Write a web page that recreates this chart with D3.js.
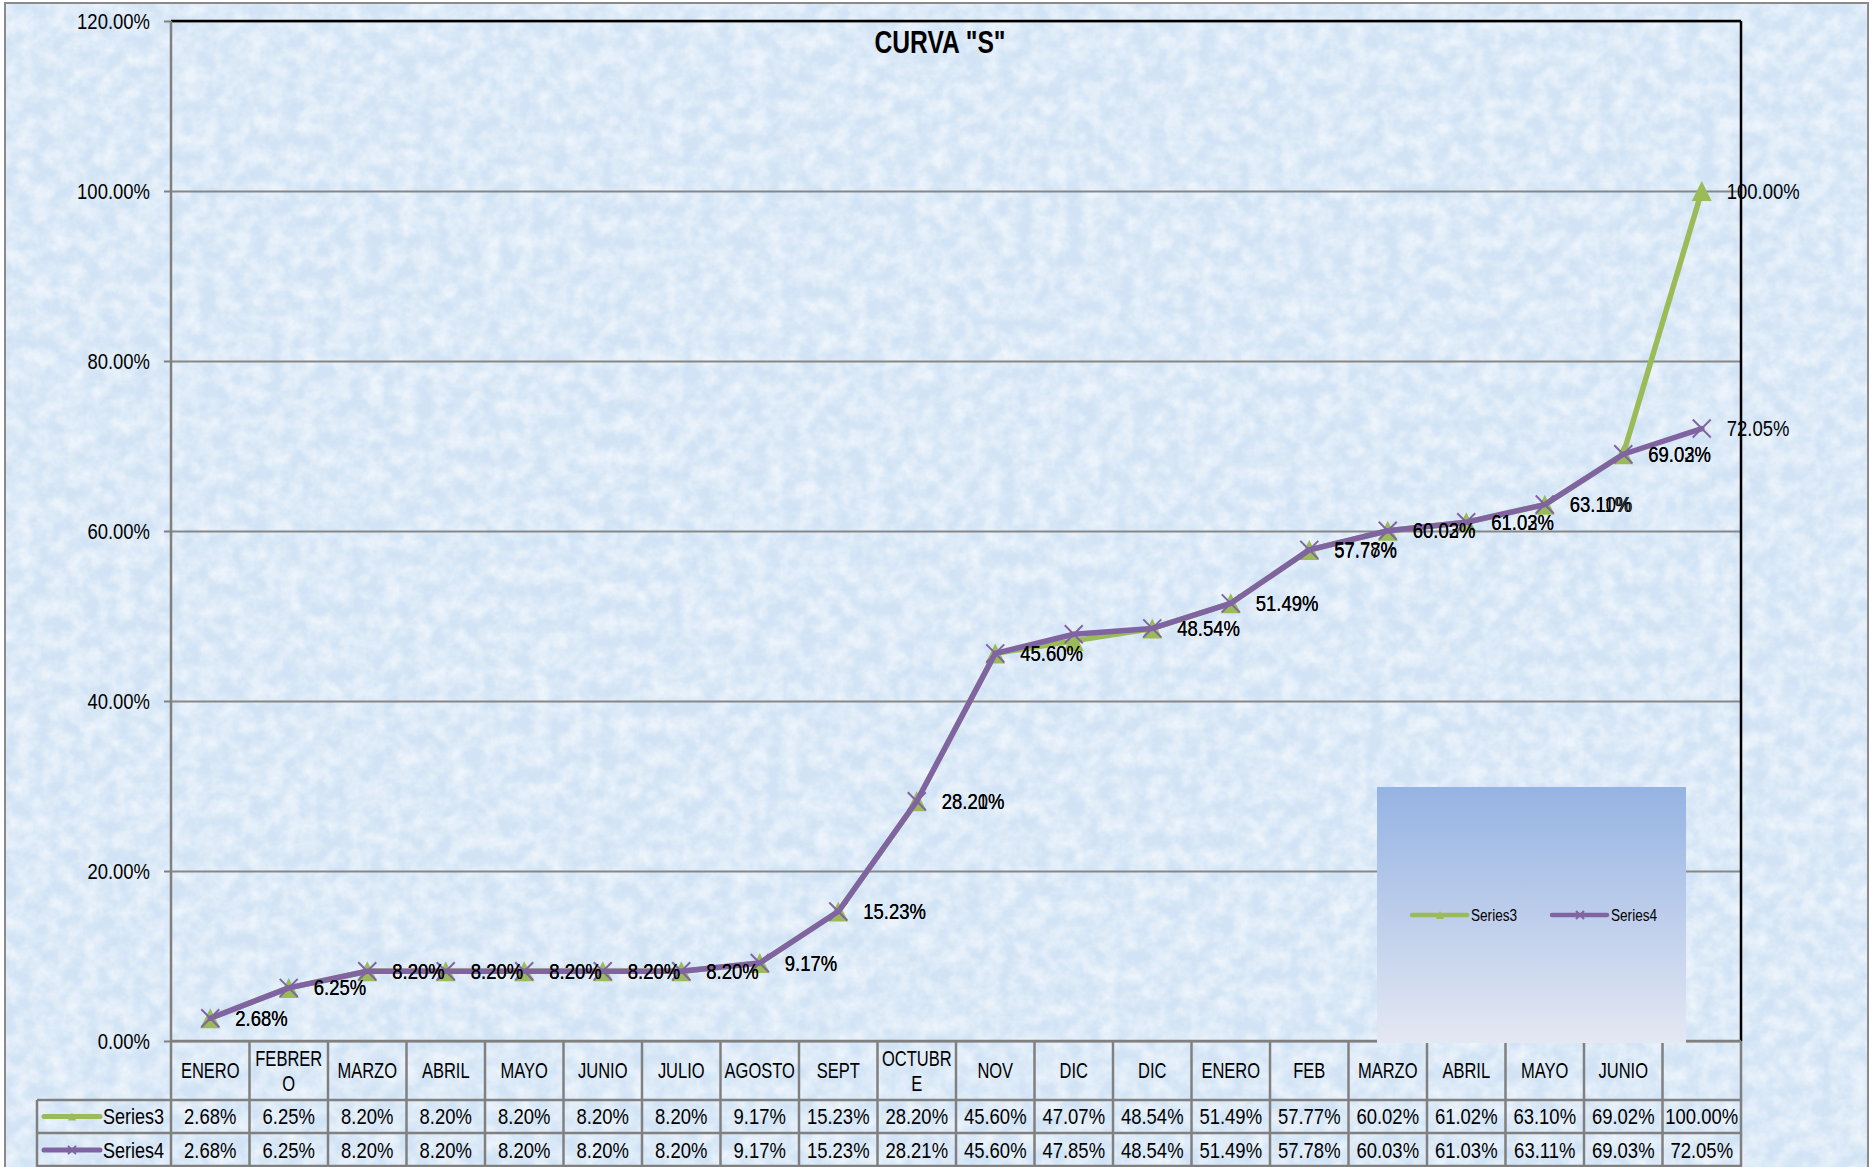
<!DOCTYPE html>
<html><head><meta charset="utf-8">
<script src="https://cdn.jsdelivr.net/npm/d3@7"></script>
<style>
body{margin:0;background:#fff;}
svg{display:block;}
text{font-family:"Liberation Sans",Arial,sans-serif;fill:#000;}
</style>
</head><body>
<svg id="chart" width="1873" height="1167"></svg>
<script>
// ---------- DATA ----------
const title = 'CURVA "S"';
const categories = ["ENERO","FEBRERO","MARZO","ABRIL","MAYO","JUNIO","JULIO","AGOSTO","SEPT","OCTUBRE","NOV","DIC","DIC","ENERO","FEB","MARZO","ABRIL","MAYO","JUNIO",""];
const seriesNames = ["Series3","Series4"];
const series3 = [2.68,6.25,8.20,8.20,8.20,8.20,8.20,9.17,15.23,28.20,45.60,47.07,48.54,51.49,57.77,60.02,61.02,63.10,69.02,100.00];
const series4 = [2.68,6.25,8.20,8.20,8.20,8.20,8.20,9.17,15.23,28.21,45.60,47.85,48.54,51.49,57.78,60.03,61.03,63.11,69.03,72.05];
const yTicks = [0,20,40,60,80,100,120];
const unlabeledPoints = [11];
const seriesColors = ["#9bbb59","#8064a2"];

// ---------- LAYOUT ----------
const svg = d3.select("#chart");
const L = 171, R = 1741, T = 21, B = 1041;
const rowH = [B, 1100, 1133, 1167];
const tableLeft = 37;
const fontSize = 22;

const x = d3.scaleBand().domain(d3.range(categories.length)).range([L, R]).paddingInner(0).paddingOuter(0);
const xc = i => x(i) + x.bandwidth() / 2;
const y = d3.scaleLinear().domain([0, 120]).range([B, T]);
const fmt = v => v.toFixed(2) + "%";
const squeeze = s => (/\d/.test(s) ? 0.84 : 0.75);

function txt(g, px, py, s, o = {}) {
  const size = o.size || fontSize;
  const f = o.sx || squeeze(s);
  return g.append("text")
    .attr("transform", `translate(${px},${py}) scale(${f},1)`)
    .attr("text-anchor", o.anchor || "start")
    .attr("dominant-baseline", "central")
    .attr("font-size", size)
    .attr("font-weight", o.weight || "normal")
    .text(s);
}

// ---------- BACKGROUND ----------
const defs = svg.append("defs");
const f = defs.append("filter").attr("id","tex").attr("x",0).attr("y",0).attr("width","100%").attr("height","100%");
f.append("feTurbulence").attr("type","fractalNoise").attr("baseFrequency","0.06").attr("numOctaves",4).attr("seed",11);
f.append("feColorMatrix").attr("type","matrix").attr("values","0 0 0 0 1  0 0 0 0 1  0 0 0 0 1  1.8 0 0 0 -0.5");
const lg = defs.append("linearGradient").attr("id","legGrad").attr("x1",0).attr("y1",0).attr("x2",0).attr("y2",1);
lg.append("stop").attr("offset","0%").attr("stop-color","#95b3e3");
lg.append("stop").attr("offset","100%").attr("stop-color","#e4e8f3");

svg.append("rect").attr("x",5).attr("y",3).attr("width",1863).attr("height",1180).attr("fill","#d1e3f5");
svg.append("rect").attr("x",5).attr("y",3).attr("width",1863).attr("height",1180)
  .attr("fill","#fff").attr("filter","url(#tex)").attr("opacity",0.6);
svg.append("rect").attr("x",5).attr("y",3).attr("width",1863).attr("height",1180)
  .attr("fill","none").attr("stroke","#8a8a8a").attr("stroke-width",2);

// ---------- GRIDLINES ----------
const grid = svg.append("g").attr("transform",`translate(${L},0)`)
  .call(d3.axisLeft(y).tickValues(yTicks).tickSize(-(R - L)).tickFormat(""));
grid.select(".domain").remove();
grid.selectAll("line").attr("stroke","#878787").attr("stroke-width",2);

// ---------- Y AXIS ----------
const yAxis = svg.append("g").attr("transform",`translate(${L},0)`)
  .call(d3.axisLeft(y).tickValues(yTicks).tickSize(7).tickPadding(14).tickFormat(fmt));
yAxis.select(".domain").remove();
yAxis.selectAll("line").attr("stroke","#808080").attr("stroke-width",2);
yAxis.selectAll(".tick text").each(function(){
  const t = d3.select(this);
  const xx = +t.attr("x");
  t.attr("x",0).attr("transform",`translate(${xx},0) scale(0.84,1)`)
   .attr("font-size",fontSize).attr("font-family",'"Liberation Sans",Arial,sans-serif').attr("fill","#000");
});

// plot frame: top & right black
svg.append("line").attr("x1",L).attr("x2",R).attr("y1",T).attr("y2",T).attr("stroke","#000").attr("stroke-width",2.5);
svg.append("line").attr("x1",R).attr("x2",R).attr("y1",T).attr("y2",B).attr("stroke","#000").attr("stroke-width",2.5);

// ---------- TABLE ----------
const tbl = svg.append("g");
const gray = "#808080";
tbl.append("line").attr("x1",L).attr("x2",R).attr("y1",rowH[0]).attr("y2",rowH[0]).attr("stroke",gray).attr("stroke-width",2.5);
[rowH[1], rowH[2], rowH[3]-1].forEach(yy => {
  tbl.append("line").attr("x1",tableLeft).attr("x2",R).attr("y1",yy).attr("y2",yy).attr("stroke",gray).attr("stroke-width",2.5);
});
d3.range(categories.length + 1).forEach(i => {
  const xx = i < categories.length ? x(i) : R;
  tbl.append("line").attr("x1",xx).attr("x2",xx).attr("y1",i === 0 ? T : rowH[0]).attr("y2",rowH[3]).attr("stroke",gray).attr("stroke-width",2.5);
});
tbl.append("line").attr("x1",tableLeft).attr("x2",tableLeft).attr("y1",rowH[1]).attr("y2",rowH[3]).attr("stroke",gray).attr("stroke-width",2.5);

// header text, wrapped by character when too wide
const measure = svg.append("text").attr("font-size",fontSize).attr("visibility","hidden");
function textW(s){ measure.text(s); return measure.node().getComputedTextLength() * 0.75; }
const maxW = x.bandwidth() - 3;
categories.forEach((c, i) => {
  const lines = [];
  let cur = "";
  for (const ch of c) {
    if (textW(cur + ch) > maxW && cur.length) { lines.push(cur); cur = ch; }
    else cur += ch;
  }
  if (cur.length) lines.push(cur);
  const cy = (rowH[0] + rowH[1]) / 2;
  const lh = 25;
  lines.forEach((ln, k) => txt(tbl, xc(i), cy + (k - (lines.length - 1) / 2) * lh, ln, {anchor:"middle", sx:0.75}));
});
measure.remove();

// marker shapes
const triangleType = { draw(ctx, size){ const s = Math.sqrt(size); ctx.moveTo(0,-s/2); ctx.lineTo(s/2,s/2); ctx.lineTo(-s/2,s/2); ctx.closePath(); } };
const crossType = { draw(ctx, size){ const s = Math.sqrt(size)/2; ctx.moveTo(-s,-s); ctx.lineTo(s,s); ctx.moveTo(s,-s); ctx.lineTo(-s,s); } };
function marker(g, k, cx, cy, size){
  if (k === 0) {
    g.append("path").attr("transform",`translate(${cx},${cy})`).attr("d", d3.symbol(triangleType, size)()).attr("fill",seriesColors[0]);
  } else {
    g.append("path").attr("transform",`translate(${cx},${cy})`).attr("d", d3.symbol(crossType, size)()).attr("fill","none").attr("stroke",seriesColors[1]).attr("stroke-width",2);
  }
}

// value rows
const allSeries = [series3, series4];
allSeries.forEach((vals, k) => {
  const cy = (rowH[k+1] + rowH[k+2]) / 2;
  vals.forEach((v, i) => txt(tbl, xc(i), cy, fmt(v), {anchor:"middle"}));
  tbl.append("line").attr("x1",44).attr("x2",100).attr("y1",cy).attr("y2",cy).attr("stroke",seriesColors[k]).attr("stroke-width",5).attr("stroke-linecap","round");
  marker(tbl, k, 72, cy, 64);
  txt(tbl, 103, cy, seriesNames[k], {sx:0.82});
});

// ---------- SERIES ----------
const lineGen = d3.line().x((d,i) => xc(i)).y(d => y(d));
const plot = svg.append("g");
allSeries.forEach((vals, k) => {
  plot.append("path").attr("d", lineGen(vals)).attr("fill","none").attr("stroke",seriesColors[k])
    .attr("stroke-width",5.5).attr("stroke-linejoin","round").attr("stroke-linecap","round");
  vals.forEach((v, i) => marker(plot, k, xc(i), y(v), k === 0 ? 400 : 324));
});
allSeries.forEach((vals) => {
  vals.forEach((v, i) => {
    if (unlabeledPoints.includes(i)) return;
    txt(plot, xc(i) + 25, y(v), fmt(v));
  });
});

// ---------- TITLE ----------
txt(svg, 940, 42, title, {anchor:"middle", size:32, weight:"bold", sx:0.77});

// ---------- LEGEND ----------
const leg = svg.append("g");
leg.append("rect").attr("x",1377).attr("y",787).attr("width",309).attr("height",256).attr("fill","url(#legGrad)");
const legX = [1412, 1552];
seriesNames.forEach((n, k) => {
  const lx = legX[k], ly = 915;
  leg.append("line").attr("x1",lx).attr("x2",lx+55).attr("y1",ly).attr("y2",ly).attr("stroke",seriesColors[k]).attr("stroke-width",4.5).attr("stroke-linecap","round");
  marker(leg, k, lx+28, ly, 64);
  txt(leg, lx+59, ly, n, {size:17, sx:0.8});
});
</script>
</body></html>
